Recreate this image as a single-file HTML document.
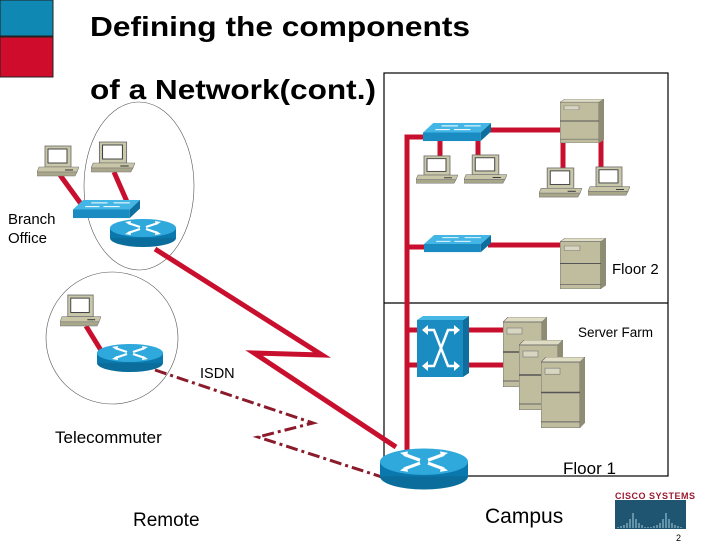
<!DOCTYPE html>
<html><head><meta charset="utf-8"><style>
html,body{margin:0;padding:0;background:#fff;}
svg{display:block;font-family:"Liberation Sans",Arial,sans-serif;}
</style></head><body>
<svg width="728" height="546" viewBox="0 0 728 546" xmlns="http://www.w3.org/2000/svg">
<defs>
<symbol id="router" viewBox="0 0 66 30" preserveAspectRatio="none">
<ellipse cx="33" cy="20" rx="33" ry="9" fill="#0b6d9c"/>
<rect x="0" y="10" width="66" height="10" fill="#0b78ad"/>
<ellipse cx="33" cy="10" rx="33" ry="9" fill="#2fa9dc"/>
<g stroke="#fff" stroke-width="2.2" fill="none">
<path d="M18 5 L30 9 M36 11 L48 15 M48 5 L36 9 M30 11 L18 15"/>
</g>
<g fill="#fff"><polygon points="15,4 21,3 20,7"/><polygon points="51,16 45,17 46,13"/><polygon points="51,4 45,3 46,7"/><polygon points="15,16 21,17 20,13"/></g>
</symbol>
<symbol id="switch" viewBox="0 0 66 20" preserveAspectRatio="none">
<polygon points="10,0 66,0 56,10 0,10" fill="#43b6e6"/>
<rect x="0" y="10" width="56" height="9" fill="#1a8cc2"/>
<polygon points="56,10 66,0 66,9 56,19" fill="#0e6f9e"/>
<g stroke="#fff" stroke-width="1" fill="none"><path d="M18 3 L34 3 M30 7 L46 7 M40 3 L56 3 M12 7 L26 7"/></g>
</symbol>
<symbol id="pc" viewBox="0 0 42 34" preserveAspectRatio="none">
<rect x="8" y="1" width="26" height="21" fill="#cac8aa" stroke="#666" stroke-width="0.8"/>
<rect x="11" y="4" width="19" height="14" fill="#fff" stroke="#444" stroke-width="1"/>
<polygon points="2,22 42,22 40,27 0,27" fill="#c8c6a6" stroke="#777" stroke-width="0.6"/>
<polygon points="0,27 40,27 38,31 0,31" fill="#a9a78a" stroke="#777" stroke-width="0.6"/>
<line x1="28" y1="25" x2="36" y2="25" stroke="#333" stroke-width="1"/>
</symbol>
<symbol id="server" viewBox="0 0 44 70" preserveAspectRatio="none">
<polygon points="0,5 5,0 44,0 39,5" fill="#dedcc2" stroke="#666" stroke-width="0.6"/>
<rect x="0" y="5" width="39" height="65" fill="#bfbd9e" stroke="#666" stroke-width="0.8"/>
<polygon points="39,5 44,0 44,65 39,70" fill="#8e8c72"/>
<rect x="4" y="11" width="15" height="6" fill="#d8d6c0" stroke="#777" stroke-width="0.6"/>
<line x1="0" y1="35" x2="39" y2="35" stroke="#555" stroke-width="1.5"/>
<line x1="0" y1="64" x2="39" y2="64" stroke="#666" stroke-width="1"/>
</symbol>
</defs>

<rect x="0" y="0" width="53" height="36" fill="#0f88b3" stroke="#222" stroke-width="1"/>
<rect x="0" y="37" width="53" height="40" fill="#cf0c2c" stroke="#222" stroke-width="1"/>
<text x="90" y="36" font-size="28" font-weight="bold" textLength="380" lengthAdjust="spacingAndGlyphs">Defining the components</text>
<text x="90" y="99" font-size="28" font-weight="bold" textLength="286" lengthAdjust="spacingAndGlyphs">of a Network(cont.)</text>

<rect x="384" y="73" width="284" height="403" fill="none" stroke="#000" stroke-width="1.2"/>
<line x1="384" y1="303" x2="668" y2="303" stroke="#000" stroke-width="1.2"/>

<ellipse cx="139" cy="186" rx="55" ry="84" fill="none" stroke="#555" stroke-width="0.6"/>
<circle cx="112" cy="338" r="66" fill="none" stroke="#555" stroke-width="0.6"/>

<g stroke="#c8102e" stroke-width="5" fill="none">
<line x1="60" y1="175" x2="84" y2="208"/>
<line x1="114" y1="172" x2="128" y2="204"/>
<line x1="86" y1="326" x2="102" y2="352"/>
<polyline points="155,249 322,355 254,353 396,447" stroke-linejoin="miter"/>
<polyline points="430,137 407,137 407,455"/>
<line x1="490" y1="130" x2="562" y2="130"/>
<line x1="440" y1="140" x2="440" y2="158"/>
<line x1="478" y1="140" x2="478" y2="158"/>
<line x1="563" y1="140" x2="563" y2="170"/>
<line x1="601" y1="140" x2="601" y2="170"/>
<line x1="407" y1="247" x2="428" y2="247"/>
<line x1="488" y1="245" x2="563" y2="245"/>
<line x1="407" y1="330" x2="420" y2="330"/>
<line x1="407" y1="365" x2="420" y2="365"/>
<line x1="466" y1="330" x2="505" y2="330"/>
<line x1="466" y1="365" x2="522" y2="365"/>
</g>
<polyline points="155,370 313,423 258,437 385,478" fill="none" stroke="#8b1a2b" stroke-width="3" stroke-dasharray="12,4,3,4"/>

<use href="#pc" x="37" y="145" width="42" height="34"/>
<use href="#pc" x="91" y="141" width="44" height="34"/>
<use href="#switch" x="73" y="200" width="67" height="19"/>
<use href="#router" x="110" y="218" width="66" height="30"/>
<use href="#pc" x="60" y="294" width="41" height="35"/>
<use href="#router" x="97" y="343" width="66" height="30"/>

<use href="#switch" x="423" y="123" width="68" height="19"/>
<use href="#server" x="560" y="99" width="44" height="44"/>
<use href="#pc" x="416" y="155" width="42" height="31"/>
<use href="#pc" x="464" y="154" width="43" height="32"/>
<use href="#pc" x="539" y="167" width="43" height="33"/>
<use href="#pc" x="588" y="166" width="42" height="32"/>
<use href="#switch" x="424" y="235" width="67" height="18"/>
<use href="#server" x="560" y="238" width="46" height="51"/>
<text x="612" y="274" font-size="15">Floor 2</text>

<rect x="417" y="320" width="46" height="57" fill="#1a8cc2"/>
<polygon points="463,320 469,316 469,373 463,377" fill="#0e6f9e"/>
<polygon points="417,320 423,316 469,316 463,320" fill="#47b8e6"/>
<g stroke="#fff" stroke-width="2.5" fill="none"><path d="M424 330 L434 330 L448 366 L458 366 M424 366 L434 366 L448 330 L458 330"/></g>
<g fill="#fff"><polygon points="460,330 454,325 454,335"/><polygon points="460,366 454,361 454,371"/><polygon points="422,330 428,325 428,335"/><polygon points="422,366 428,361 428,371"/></g>
<use href="#server" x="503" y="317" width="44" height="70"/>
<use href="#server" x="519" y="340" width="44" height="70"/>
<use href="#server" x="541" y="357" width="44" height="71"/>
<text x="578" y="337" font-size="13.5">Server Farm</text>
<text x="563" y="474" font-size="17">Floor 1</text>
<use href="#router" x="380" y="447" width="88" height="44"/>

<text x="8" y="224" font-size="15">Branch</text>
<text x="8" y="243" font-size="15">Office</text>
<text x="200" y="378" font-size="14.5">ISDN</text>
<text x="55" y="443" font-size="17">Telecommuter</text>
<text x="133" y="526" font-size="19">Remote</text>
<text x="485" y="523" font-size="21">Campus</text>

<text x="615" y="499" font-size="9" font-weight="bold" fill="#9b1b30" letter-spacing="0.5">CISCO SYSTEMS</text>
<rect x="615" y="500" width="71" height="29" fill="#1f5570"/>
<g stroke="#a9cfe0" stroke-width="1">
<path d="M618 528 v-1 M621 528 v-2 M624 528 v-3 M627 528 v-5 M630 528 v-9 M633 528 v-15 M636 528 v-9 M639 528 v-5 M642 528 v-3 M645 528 v-1 M648 528 v-1 M651 528 v-1 M654 528 v-2 M657 528 v-3 M660 528 v-5 M663 528 v-9 M666 528 v-15 M669 528 v-9 M672 528 v-5 M675 528 v-3 M678 528 v-2 M681 528 v-1"/>
</g>
<text x="676" y="541" font-size="9">2</text>
</svg>
</body></html>
